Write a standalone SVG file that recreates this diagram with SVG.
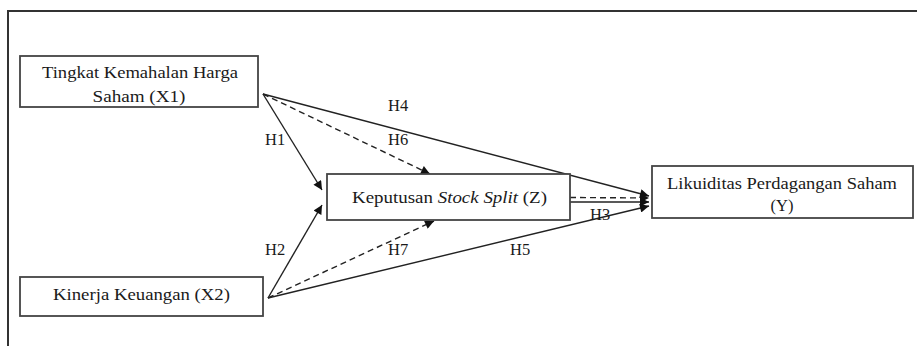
<svg xmlns="http://www.w3.org/2000/svg" width="917" height="346" viewBox="0 0 917 346">
<style>
.box{fill:#fff;stroke:#444;stroke-width:1.8}
.t{font-family:"Liberation Serif","Times New Roman",serif;font-size:16.5px;fill:#1a1a1a;text-anchor:middle}
.lbl{font-family:"Liberation Serif","Times New Roman",serif;font-size:16.5px;fill:#1a1a1a}
.ln{fill:none;stroke:#222;stroke-width:1.4}
.dash{stroke-dasharray:6 4}
.frame{fill:none;stroke:#333;stroke-width:2}
</style>
<defs>
<marker id="ah" viewBox="0 0 10 10" refX="10" refY="5" markerWidth="10" markerHeight="9" markerUnits="userSpaceOnUse" orient="auto">
<path d="M0,0 L10,5 L0,10 z" fill="#111"/>
</marker>
</defs>
<path class="frame" d="M8,346 V11 H917"/>
<g id="connectors">
<line class="ln" x1="263" y1="94" x2="322" y2="190" marker-end="url(#ah)"/>
<line class="ln dash" x1="263" y1="94" x2="430" y2="174" marker-end="url(#ah)"/>
<line class="ln" x1="263" y1="94" x2="649" y2="196" marker-end="url(#ah)"/>
<line class="ln" x1="268" y1="298" x2="322" y2="205" marker-end="url(#ah)"/>
<line class="ln dash" x1="268" y1="298" x2="434" y2="221" marker-end="url(#ah)"/>
<line class="ln" x1="268" y1="298" x2="649" y2="206" marker-end="url(#ah)"/>
<line class="ln dash" x1="570" y1="197.5" x2="649" y2="198" marker-end="url(#ah)"/>
<line class="ln" x1="570" y1="202" x2="649" y2="202" marker-end="url(#ah)"/>
<text class="lbl" x="388" y="111">H4</text>
<text class="lbl" x="388" y="145">H6</text>
<text class="lbl" x="265" y="145">H1</text>
<text class="lbl" x="265" y="255">H2</text>
<text class="lbl" x="388" y="255">H7</text>
<text class="lbl" x="510" y="255">H5</text>
<text class="lbl" x="590" y="220">H3</text>
</g>
<g id="x1">
<rect class="box" x="20" y="56" width="238" height="51"/>
<text class="t" x="140" y="78" textLength="196" lengthAdjust="spacingAndGlyphs">Tingkat Kemahalan Harga</text>
<text class="t" x="139" y="102" textLength="93" lengthAdjust="spacingAndGlyphs">Saham (X1)</text>
</g>
<g id="x2">
<rect class="box" x="20" y="277" width="243" height="39"/>
<text class="t" x="141.5" y="300" textLength="177" lengthAdjust="spacingAndGlyphs">Kinerja Keuangan (X2)</text>
</g>
<g id="z">
<rect class="box" x="327" y="174" width="243" height="46"/>
<text class="t" x="449.5" y="203" textLength="195" lengthAdjust="spacingAndGlyphs">Keputusan <tspan font-style="italic">Stock Split</tspan> (Z)</text>
</g>
<g id="y">
<rect class="box" x="652" y="166" width="261" height="52"/>
<text class="t" x="782" y="189" textLength="230" lengthAdjust="spacingAndGlyphs">Likuiditas Perdagangan Saham</text>
<text class="t" x="782" y="211">(Y)</text>
</g>
</svg>
